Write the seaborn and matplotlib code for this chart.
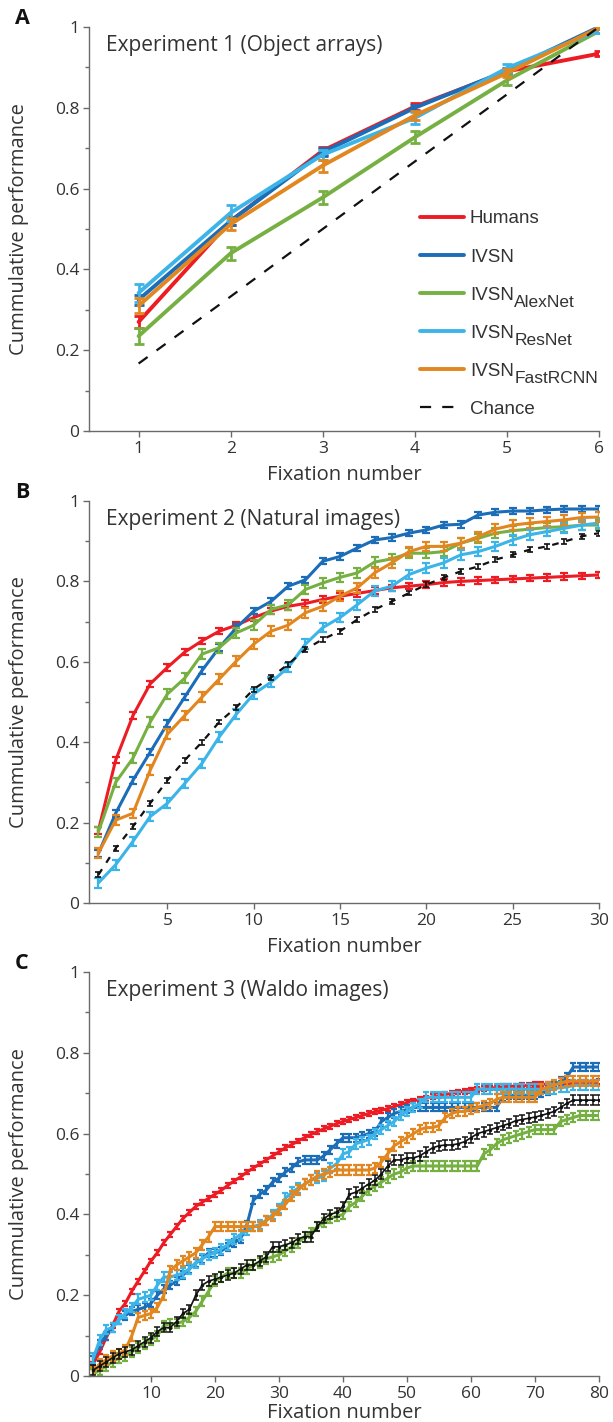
import matplotlib
matplotlib.use("Agg")
import matplotlib.pyplot as plt
from matplotlib.ticker import MultipleLocator
import numpy as np
import pandas as pd
import seaborn as sns

# ---------------------------------------------------------------- data
models = ["Humans", "IVSN", "IVSN_AlexNet", "IVSN_ResNet", "IVSN_FastRCNN", "Chance"]
legend_main = ["Humans", "IVSN", "IVSN", "IVSN", "IVSN", "Chance"]
legend_sub = ["", "", "AlexNet", "ResNet", "FastRCNN", ""]
colors = ["#ED1C24", "#1C6DB8", "#76B043", "#3DB4E8", "#E2861F", "#111111"]

# Experiment 1: object arrays (6 fixations)
fix_a = [1, 2, 3, 4, 5, 6]
a_humans = [0.270, 0.520, 0.694, 0.803, 0.890, 0.934]
a_ivsn = [0.325, 0.520, 0.690, 0.800, 0.892, 1.000]
a_alexnet = [0.235, 0.440, 0.578, 0.727, 0.868, 0.990]
a_resnet = [0.342, 0.540, 0.684, 0.775, 0.898, 0.992]
a_fastrcnn = [0.310, 0.512, 0.657, 0.781, 0.886, 0.998]
a_chance = [0.167, 0.333, 0.500, 0.667, 0.833, 1.000]
a_err_humans = [0.015, 0.010, 0.010, 0.008, 0.006, 0.006]
a_err_ivsn = [0.012, 0.010, 0.010, 0.008, 0.006, 0.004]
a_err_alexnet = [0.020, 0.016, 0.015, 0.015, 0.012, 0.006]
a_err_resnet = [0.022, 0.020, 0.012, 0.015, 0.010, 0.006]
a_err_fastrcnn = [0.018, 0.015, 0.015, 0.012, 0.010, 0.004]

# Experiment 2: natural images (30 fixations)
fix_b = list(range(1, 31))
b_humans = [0.180, 0.355, 0.466, 0.545, 0.586, 0.624, 0.652, 0.676, 0.691, 0.710,
            0.726, 0.738, 0.745, 0.755, 0.763, 0.770, 0.777, 0.784, 0.788, 0.792,
            0.797, 0.800, 0.802, 0.804, 0.806, 0.808, 0.810, 0.812, 0.814, 0.816]
b_ivsn = [0.123, 0.223, 0.305, 0.375, 0.446, 0.512, 0.578, 0.635, 0.685, 0.726,
          0.750, 0.788, 0.804, 0.850, 0.862, 0.883, 0.903, 0.909, 0.920, 0.928,
          0.940, 0.942, 0.965, 0.972, 0.975, 0.975, 0.978, 0.980, 0.980, 0.980]
b_alexnet = [0.177, 0.300, 0.360, 0.450, 0.520, 0.559, 0.619, 0.635, 0.672, 0.691,
             0.730, 0.742, 0.780, 0.796, 0.810, 0.821, 0.848, 0.856, 0.870, 0.870,
             0.874, 0.895, 0.907, 0.920, 0.926, 0.930, 0.934, 0.936, 0.940, 0.940]
b_resnet = [0.050, 0.095, 0.153, 0.215, 0.248, 0.297, 0.347, 0.413, 0.470, 0.520,
            0.549, 0.586, 0.644, 0.685, 0.710, 0.742, 0.776, 0.788, 0.817, 0.833,
            0.846, 0.866, 0.874, 0.887, 0.903, 0.916, 0.924, 0.932, 0.940, 0.945]
b_fastrcnn = [0.124, 0.206, 0.223, 0.330, 0.420, 0.466, 0.512, 0.557, 0.602, 0.644,
              0.676, 0.691, 0.722, 0.738, 0.763, 0.784, 0.821, 0.846, 0.874, 0.887,
              0.887, 0.895, 0.911, 0.930, 0.940, 0.945, 0.949, 0.953, 0.959, 0.960]
b_chance = [0.070, 0.136, 0.190, 0.248, 0.305, 0.355, 0.400, 0.450, 0.487, 0.532,
            0.561, 0.594, 0.631, 0.656, 0.676, 0.705, 0.730, 0.750, 0.771, 0.792,
            0.809, 0.825, 0.837, 0.854, 0.866, 0.879, 0.887, 0.899, 0.912, 0.920]
b_err = [0.008, 0.008, 0.012, 0.012, 0.012, 0.006]

# Experiment 3: Waldo images (80 fixations)
fix_c = list(range(1, 81))
c_humans = [0.030, 0.060, 0.095, 0.125, 0.160, 0.180, 0.210, 0.235, 0.260, 0.285,
            0.305, 0.330, 0.350, 0.370, 0.390, 0.405, 0.420, 0.430, 0.440, 0.450,
            0.460, 0.472, 0.483, 0.493, 0.505, 0.515, 0.525, 0.535, 0.545, 0.555,
            0.565, 0.573, 0.582, 0.590, 0.598, 0.605, 0.612, 0.618, 0.625, 0.630,
            0.635, 0.640, 0.645, 0.650, 0.654, 0.658, 0.662, 0.667, 0.672, 0.677,
            0.681, 0.685, 0.688, 0.691, 0.694, 0.697, 0.700, 0.703, 0.705, 0.707,
            0.709, 0.711, 0.713, 0.714, 0.716, 0.717, 0.718, 0.719, 0.720, 0.721,
            0.722, 0.723, 0.724, 0.725, 0.726, 0.727, 0.727, 0.728, 0.728, 0.729]
c_ivsn = [0.040, 0.080, 0.100, 0.120, 0.140, 0.150, 0.160, 0.165, 0.170, 0.180,
          0.200, 0.215, 0.225, 0.235, 0.250, 0.265, 0.280, 0.290, 0.305, 0.305,
          0.310, 0.320, 0.330, 0.340, 0.375, 0.435, 0.450, 0.460, 0.480, 0.490,
          0.505, 0.515, 0.530, 0.535, 0.535, 0.535, 0.545, 0.560, 0.575, 0.590,
          0.590, 0.590, 0.595, 0.600, 0.605, 0.630, 0.640, 0.650, 0.655, 0.660,
          0.665, 0.665, 0.665, 0.665, 0.665, 0.665, 0.665, 0.665, 0.665, 0.665,
          0.665, 0.665, 0.665, 0.665, 0.690, 0.695, 0.695, 0.695, 0.695, 0.695,
          0.700, 0.705, 0.720, 0.730, 0.740, 0.765, 0.765, 0.765, 0.765, 0.765]
c_alexnet = [0.005, 0.015, 0.025, 0.035, 0.045, 0.050, 0.060, 0.070, 0.080, 0.090,
             0.100, 0.125, 0.130, 0.130, 0.135, 0.145, 0.160, 0.185, 0.210, 0.235,
             0.245, 0.255, 0.255, 0.255, 0.265, 0.275, 0.280, 0.290, 0.295, 0.300,
             0.310, 0.320, 0.330, 0.345, 0.355, 0.370, 0.380, 0.390, 0.395, 0.400,
             0.420, 0.430, 0.445, 0.460, 0.470, 0.480, 0.490, 0.500, 0.505, 0.515,
             0.520, 0.520, 0.520, 0.520, 0.520, 0.520, 0.520, 0.520, 0.520, 0.520,
             0.520, 0.550, 0.560, 0.575, 0.585, 0.590, 0.595, 0.600, 0.605, 0.610,
             0.610, 0.610, 0.610, 0.630, 0.635, 0.640, 0.645, 0.645, 0.645, 0.645]
c_resnet = [0.045, 0.090, 0.115, 0.120, 0.140, 0.155, 0.170, 0.190, 0.195, 0.200,
            0.225, 0.245, 0.245, 0.250, 0.255, 0.265, 0.280, 0.290, 0.300, 0.305,
            0.315, 0.325, 0.340, 0.350, 0.360, 0.370, 0.375, 0.385, 0.400, 0.415,
            0.440, 0.455, 0.465, 0.475, 0.485, 0.490, 0.495, 0.515, 0.525, 0.550,
            0.555, 0.575, 0.580, 0.585, 0.600, 0.610, 0.620, 0.630, 0.645, 0.655,
            0.665, 0.675, 0.690, 0.690, 0.690, 0.690, 0.690, 0.690, 0.690, 0.690,
            0.710, 0.710, 0.710, 0.710, 0.710, 0.710, 0.710, 0.710, 0.710, 0.710,
            0.710, 0.710, 0.710, 0.715, 0.715, 0.720, 0.720, 0.720, 0.720, 0.720]
c_fastrcnn = [0.010, 0.030, 0.040, 0.050, 0.055, 0.065, 0.100, 0.145, 0.150, 0.155,
              0.170, 0.200, 0.260, 0.275, 0.285, 0.295, 0.305, 0.325, 0.345, 0.370,
              0.370, 0.370, 0.370, 0.370, 0.370, 0.370, 0.370, 0.385, 0.395, 0.410,
              0.425, 0.445, 0.460, 0.475, 0.485, 0.495, 0.500, 0.505, 0.510, 0.510,
              0.510, 0.510, 0.510, 0.510, 0.515, 0.530, 0.550, 0.570, 0.580, 0.590,
              0.600, 0.610, 0.615, 0.615, 0.620, 0.640, 0.650, 0.655, 0.655, 0.660,
              0.665, 0.670, 0.675, 0.685, 0.690, 0.690, 0.690, 0.690, 0.690, 0.690,
              0.710, 0.715, 0.720, 0.725, 0.730, 0.730, 0.730, 0.730, 0.730, 0.730]
c_chance = [0.015, 0.025, 0.035, 0.045, 0.055, 0.060, 0.065, 0.075, 0.085, 0.095,
            0.110, 0.120, 0.120, 0.135, 0.155, 0.165, 0.200, 0.225, 0.235, 0.240,
            0.245, 0.250, 0.255, 0.265, 0.275, 0.275, 0.285, 0.295, 0.320, 0.320,
            0.325, 0.330, 0.340, 0.345, 0.345, 0.370, 0.390, 0.400, 0.405, 0.420,
            0.450, 0.455, 0.465, 0.475, 0.485, 0.500, 0.520, 0.535, 0.535, 0.540,
            0.540, 0.545, 0.555, 0.565, 0.570, 0.572, 0.572, 0.575, 0.580, 0.590,
            0.600, 0.605, 0.610, 0.615, 0.620, 0.625, 0.632, 0.635, 0.638, 0.641,
            0.645, 0.650, 0.655, 0.665, 0.675, 0.683, 0.683, 0.683, 0.683, 0.683]
c_err = [0.006, 0.010, 0.012, 0.012, 0.012, 0.012]

titles = ["Experiment 1 (Object arrays)",
          "Experiment 2 (Natural images)",
          "Experiment 3 (Waldo images)"]
panel_letters = ["A", "B", "C"]
y_ticks = [0, 0.2, 0.4, 0.6, 0.8, 1]
y_tick_labels = ["0", "0.2", "0.4", "0.6", "0.8", "1"]

# ---------------------------------------------------------------- style
sns.set_theme(style="ticks")
plt.rcParams["font.family"] = ["Open Sans", "DejaVu Sans"]
TEXT = "#333333"
SPINE = "#6a6a6a"
LEGEND_FONT = ["Liberation Sans", "DejaVu Sans"]

fig = plt.figure(figsize=(6.13, 14.22), dpi=100)
left, width = 0.145, 0.832
ax_a = fig.add_axes([left, 0.6969, width, 0.2841])
ax_b = fig.add_axes([left, 0.3650, width, 0.2827])
ax_c = fig.add_axes([left, 0.0323, width, 0.2841])


def draw_series(ax, x, y, err, color, lw, dashes=None, marker=None, ms=0,
                label=None, cap=3.0, elw=1.6):
    df = pd.DataFrame({"fixation": x, "performance": y})
    sns.lineplot(data=df, x="fixation", y="performance", ax=ax, color=color,
                 linewidth=lw, label=label, legend=False, errorbar=None,
                 marker=marker, markersize=ms, markeredgewidth=0)
    line = ax.get_lines()[-1]
    if dashes is not None:
        line.set_dashes(dashes)
    if err is not None:
        ax.errorbar(x, y, yerr=err, fmt="none", ecolor=color, elinewidth=elw,
                    capsize=cap, capthick=elw, zorder=line.get_zorder())
    return line


def style_axis(ax, xlim, xticks, title, letter, xlabel_y=-0.085):
    ax.set_ylim(0, 1)
    ax.set_xlim(*xlim)
    ax.set_xticks(xticks)
    ax.set_yticks(y_ticks)
    ax.set_yticklabels(y_tick_labels)
    ax.yaxis.set_minor_locator(MultipleLocator(0.1))
    ax.tick_params(axis="both", which="major", direction="out", length=4,
                   width=1, color=SPINE, labelsize=12.5, labelcolor=TEXT, pad=3)
    ax.tick_params(axis="y", which="minor", direction="out", length=3,
                   width=1, color=SPINE)
    sns.despine(ax=ax)
    for s in ("left", "bottom"):
        ax.spines[s].set_color(SPINE)
        ax.spines[s].set_linewidth(1.0)
    ax.set_xlabel("Fixation number", fontsize=14.5, color=TEXT)
    ax.set_ylabel("Cummulative performance", fontsize=14.5, color=TEXT)
    ax.xaxis.set_label_coords(0.5, xlabel_y)
    ax.yaxis.set_label_coords(-0.118, 0.5)
    ax.text(0.033, 0.955, title, transform=ax.transAxes, fontsize=15,
            color=TEXT, ha="left", va="center")
    ax.text(-0.145, 1.02, letter, transform=ax.transAxes, fontsize=15.5,
            fontweight="bold", color="#111111", ha="left", va="center")


# ---------------------------------------------------------------- panel A
a_values = [a_humans, a_ivsn, a_alexnet, a_resnet, a_fastrcnn]
a_errors = [a_err_humans, a_err_ivsn, a_err_alexnet, a_err_resnet, a_err_fastrcnn]
handles = []
for name, vals, errs, col in zip(legend_main[:5], a_values, a_errors, colors[:5]):
    handles.append(draw_series(ax_a, fix_a, vals, errs, col, lw=2.8,
                               label=name, cap=3.5, elw=2.0))
handles.append(draw_series(ax_a, fix_a, a_chance, None, colors[5], lw=1.6,
                           dashes=(5, 5), label=legend_main[5]))
style_axis(ax_a, (0.46, 6.0), fix_a, titles[0], panel_letters[0])
leg = ax_a.legend(handles=handles, labels=legend_main, loc="upper left",
                  bbox_to_anchor=(0.635, 0.565), frameon=False,
                  prop={"family": LEGEND_FONT, "size": 13.5},
                  handlelength=2.35, handletextpad=0.3,
                  labelspacing=1.12, borderaxespad=0)
# network names set as near full-size subscripts after "IVSN";
# drawn after the legend so they follow its final text positions
for txt, sub in zip(leg.get_texts(), legend_sub):
    txt.set_color(TEXT)
    if sub:
        ax_a.annotate(sub, xy=(1, 0), xycoords=txt, xytext=(0.3, -2.6),
                      textcoords="offset points", ha="left", va="baseline",
                      fontsize=12.5, family=LEGEND_FONT, color=TEXT,
                      zorder=10)

# ---------------------------------------------------------------- panel B
b_values = [b_humans, b_ivsn, b_alexnet, b_resnet, b_fastrcnn]
for vals, err, col in zip(b_values, b_err[:5], colors[:5]):
    draw_series(ax_b, fix_b, vals, err, col, lw=2.2, cap=2.6, elw=1.6)
draw_series(ax_b, fix_b, b_chance, b_err[5], colors[5], lw=1.6, dashes=(3, 3.5),
            cap=2.0, elw=1.2)
style_axis(ax_b, (0.45, 30.0), [5, 10, 15, 20, 25, 30], titles[1], panel_letters[1])

# ---------------------------------------------------------------- panel C
c_values = [c_humans, c_ivsn, c_alexnet, c_resnet, c_fastrcnn]
for vals, err, col in zip(c_values, c_err[:5], colors[:5]):
    draw_series(ax_c, fix_c, vals, err, col, lw=2.2, cap=2.2, elw=1.6)
draw_series(ax_c, fix_c, c_chance, c_err[5], colors[5], lw=1.2, marker="o", ms=2.5,
            cap=2.0, elw=1.1)
style_axis(ax_c, (0.3, 80.0), [10, 20, 30, 40, 50, 60, 70, 80], titles[2],
           panel_letters[2], xlabel_y=-0.066)

fig.savefig("out.png", dpi=100)
